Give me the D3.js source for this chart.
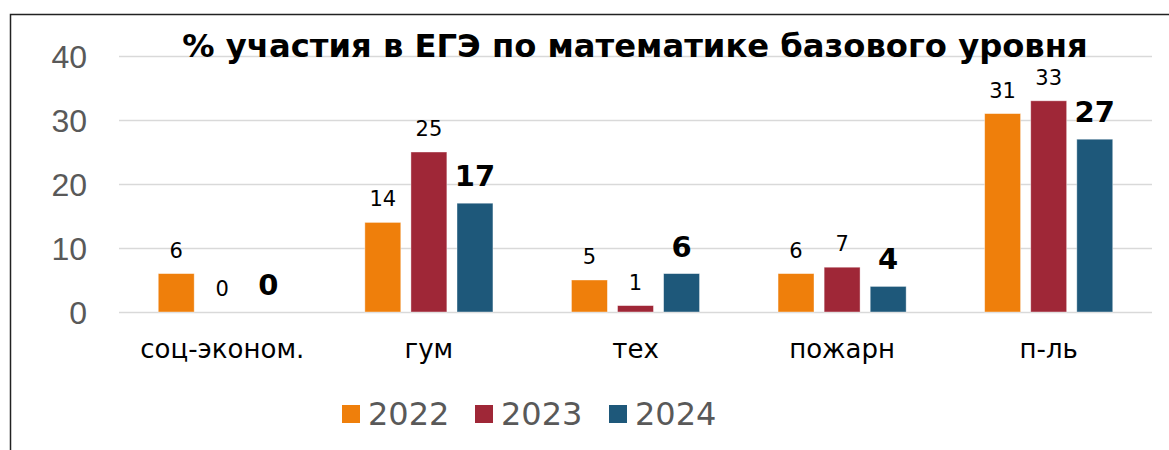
<!DOCTYPE html>
<html>
<head>
<meta charset="utf-8">
<script src="https://cdn.jsdelivr.net/npm/d3@7"></script>
<style>
  body { margin: 0; background: #fff; }
  svg { display: block; font-family: "DejaVu Sans", Verdana, sans-serif; }
  .grid line { stroke: #d9d9d9; stroke-width: 1.5; }
  .grid text { fill: #595959; font-size: 32px; }
</style>
</head>
<body>
<div class="chart"></div>
<script>
var categories = ["соц-эконом.", "гум", "тех", "пожарн", "п-ль"];
var years = ["2022", "2023", "2024"];
var v2022 = [6, 14, 5, 6, 31];
var v2023 = [0, 25, 1, 7, 33];
var v2024 = [0, 17, 6, 4, 27];
var yTicks = [0, 10, 20, 30, 40];
var colors = ["#ef7f0b", "#9f2737", "#1e587a"];

var width = 1169, height = 450;
var plot = { left: 119, right: 1152, top: 56, bottom: 312 };

var svg = d3.select(".chart").append("svg")
    .attr("width", width)
    .attr("height", height);

// frame (clipped by the picture on right and bottom)
svg.append("path")
    .attr("d", "M10.5," + height + "V14.5H" + width)
    .attr("fill", "none")
    .attr("stroke", "#222")
    .attr("stroke-width", 1.5);

var series = [v2022, v2023, v2024];
var rows = categories.map(function(c, i) {
  return { cat: c, values: years.map(function(y, j) { return { year: y, idx: j, value: series[j][i] }; }) };
});

var x0 = d3.scaleBand()
    .domain(categories)
    .range([plot.left, plot.right])
    .paddingInner(0.38)
    .paddingOuter(0.19);
var x1 = d3.scaleBand()
    .domain(years)
    .range([0, x0.bandwidth()])
    .paddingInner(0.22);
var y = d3.scaleLinear()
    .domain([0, 40])
    .range([plot.bottom, plot.top]);

// gridlines + y labels
var yAxis = d3.axisLeft(y)
    .tickValues(yTicks)
    .tickSize(-(plot.right - plot.left))
    .tickPadding(32);
svg.append("g")
    .attr("class", "grid")
    .attr("transform", "translate(" + plot.left + ",0)")
    .call(yAxis)
    .call(function(g) { g.select(".domain").remove(); })
    .selectAll("text").attr("dy", "0.36em");

// title
var title = svg.append("text")
    .attr("x", 635)
    .attr("y", 57)
    .attr("text-anchor", "middle")
    .attr("font-weight", "bold")
    .attr("font-size", 31)
    .attr("fill", "#000")
    .text("% участия в ЕГЭ по математике базового уровня");
var tw = title.node().getComputedTextLength();
title.attr("font-size", 31 * 906 / tw);

// bars
var groups = svg.append("g").selectAll("g")
    .data(rows)
    .join("g")
    .attr("transform", function(d) { return "translate(" + x0(d.cat) + ",0)"; });

groups.selectAll("rect")
    .data(function(d) { return d.values; })
    .join("rect")
    .attr("x", function(d) { return x1(d.year); })
    .attr("y", function(d) { return y(d.value); })
    .attr("width", x1.bandwidth())
    .attr("height", function(d) { return y(0) - y(d.value); })
    .attr("fill", function(d) { return colors[d.idx]; })
    .attr("stroke", "#fff")
    .attr("stroke-opacity", 0.5)
    .attr("stroke-width", 0.8);

// value labels
groups.selectAll("text")
    .data(function(d) { return d.values; })
    .join("text")
    .attr("x", function(d) { return x1(d.year) + x1.bandwidth() / 2; })
    .attr("y", function(d) { return y(d.value) - (d.idx === 2 ? 17 : 16); })
    .attr("text-anchor", "middle")
    .attr("font-size", function(d) { return d.idx === 2 ? 29 : 21; })
    .attr("font-weight", function(d) { return d.idx === 2 ? "bold" : "normal"; })
    .attr("fill", "#000")
    .text(function(d) { return d.value; });

// category labels
svg.append("g").selectAll("text")
    .data(categories)
    .join("text")
    .attr("x", function(d) { return x0(d) + x0.bandwidth() / 2; })
    .attr("y", 358)
    .attr("text-anchor", "middle")
    .attr("font-size", 26)
    .attr("fill", "#000")
    .text(function(d) { return d; });

// legend
var legendX = [342, 475, 609];
var legend = svg.append("g").selectAll("g")
    .data(years)
    .join("g")
    .attr("transform", function(d, i) { return "translate(" + legendX[i] + ",405)"; });
legend.append("rect")
    .attr("width", 18)
    .attr("height", 18)
    .attr("fill", function(d, i) { return colors[i]; });
legend.append("text")
    .attr("x", 26)
    .attr("y", 20)
    .attr("font-size", 32)
    .attr("fill", "#595959")
    .text(function(d) { return d; });
</script>
</body>
</html>
